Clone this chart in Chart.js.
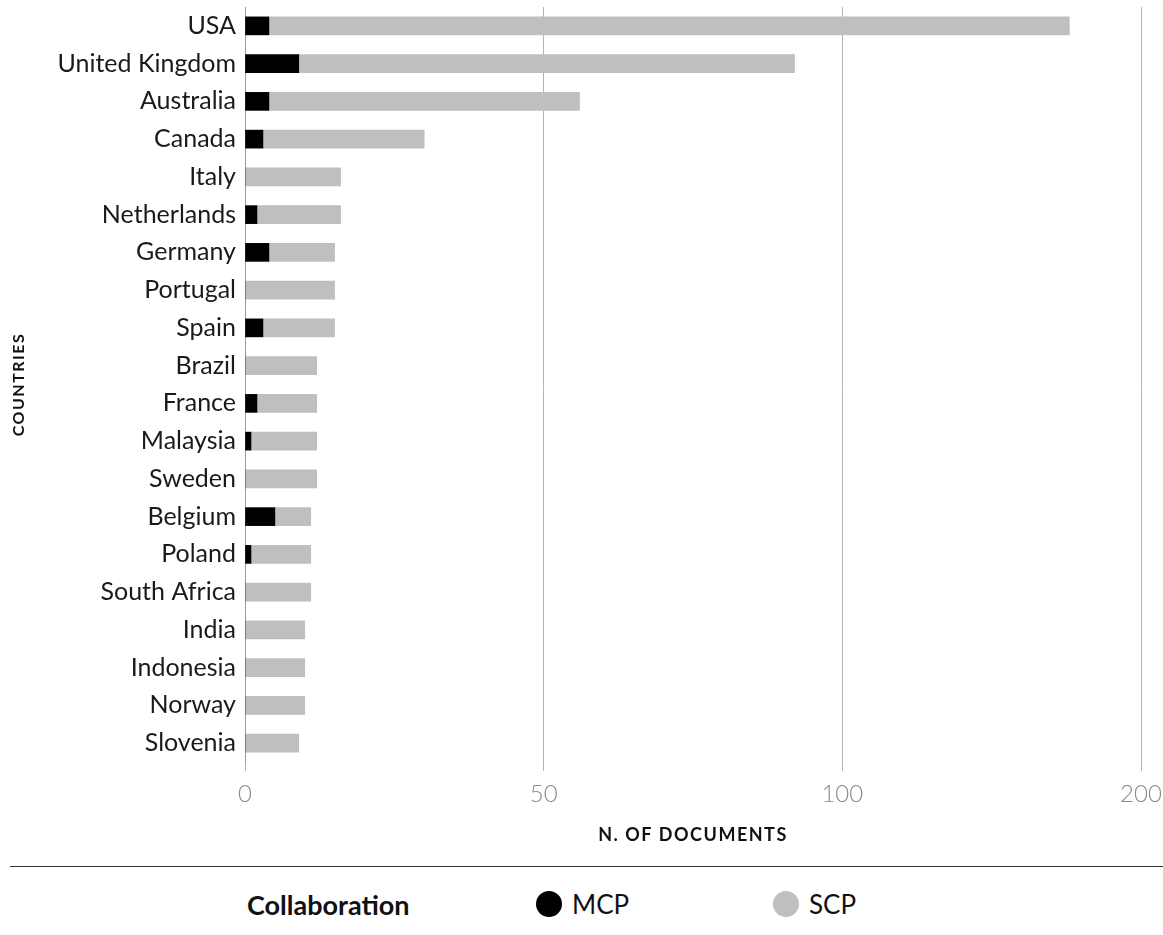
<!DOCTYPE html>
<html>
<head>
<meta charset="utf-8">
<script src="https://cdn.jsdelivr.net/npm/chart.js@4"></script>
<style>
  body { margin: 0; background: #fff; font-family: Lato, sans-serif; }
  #wrap { position: relative; width: 1163px; height: 935px; overflow: hidden; }
  #c { position: absolute; left: 0; top: 0; }
  .rule { position: absolute; left: 10px; right: 0; top: 866px; border-top: 1.5px solid #333; }
  .item { position: absolute; top: 884px; height: 40px; display: flex; align-items: center; font-size: 26px; line-height: 1; color: #111; }
  .item.head { font-weight: bold; font-size: 27px; }
  .dot { width: 26px; height: 26px; border-radius: 50%; margin-right: 10px; }
</style>
</head>
<body>
<div id="wrap">
  <canvas id="c" width="1163" height="860"></canvas>
  <div class="rule"></div>
  <div id="legend"></div>
</div>
<script>
const countries = [
  "USA", "United Kingdom", "Australia", "Canada", "Italy", "Netherlands",
  "Germany", "Portugal", "Spain", "Brazil", "France", "Malaysia", "Sweden",
  "Belgium", "Poland", "South Africa", "India", "Indonesia", "Norway", "Slovenia"
];
const mcpDocs = [4, 9, 4, 3, 0, 2, 4, 0, 3, 0, 2, 1, 0, 5, 1, 0, 0, 0, 0, 0];
const scpDocs = [172, 83, 52, 27, 16, 14, 11, 15, 12, 12, 10, 11, 12, 6, 10, 11, 10, 10, 10, 9];
const xTicks = [0, 50, 100, 200];

// x axis: each interval between ticks gets the same width (0-50, 50-100, 100-200)
class PiecewiseScale extends Chart.LinearScale {
  buildTicks() {
    return xTicks.map((v) => ({ value: v }));
  }
  getPixelForValue(value) {
    if (value === null || isNaN(value)) return NaN;
    const n = xTicks.length - 1;
    let i = 0;
    while (i < n - 1 && value > xTicks[i + 1]) i++;
    const frac = (value - xTicks[i]) / (xTicks[i + 1] - xTicks[i]);
    return this.getPixelForDecimal((i + frac) / n);
  }
  getValueForPixel(pixel) {
    const n = xTicks.length - 1;
    const d = this.getDecimalForPixel(pixel) * n;
    const i = Math.min(Math.max(Math.floor(d), 0), n - 1);
    return xTicks[i] + (d - i) * (xTicks[i + 1] - xTicks[i]);
  }
}
PiecewiseScale.id = "piecewise";
PiecewiseScale.defaults = {};
Chart.register(PiecewiseScale);

// spaced-out axis titles
const titleSpacing = {
  id: "titleSpacing",
  beforeDraw(chart) {
    Object.values(chart.scales).forEach((s) => {
      if (s._spaced) return;
      const orig = s.drawTitle;
      s.drawTitle = function () {
        this.ctx.save();
        this.ctx.letterSpacing = "1.5px";
        orig.apply(this, arguments);
        this.ctx.restore();
      };
      s._spaced = true;
    });
  },
};

const ctx = document.getElementById("c").getContext("2d");
const chart = new Chart(ctx, {
  type: "bar",
  data: {
    labels: countries,
    datasets: [
      { label: "MCP", data: mcpDocs, backgroundColor: "#000000", borderWidth: 0, barThickness: 18 },
      { label: "SCP", data: scpDocs, backgroundColor: "#bfbfbf", borderWidth: 0, barThickness: 18 },
    ],
  },
  options: {
    indexAxis: "y",
    responsive: false,
    animation: false,
    layout: { padding: { top: 7, right: 22, left: 0, bottom: 0 } },
    plugins: {
      legend: { display: false },
      tooltip: { enabled: false },
    },
    scales: {
      x: {
        type: "piecewise",
        stacked: true,
        min: 0,
        max: 200,
        afterFit: (s) => {
          s.height = 98;
          s.paddingLeft = 0;
          s.paddingRight = 0;
        },
        grid: { color: "#b4b4b4", lineWidth: 1, drawTicks: true, tickLength: 9, tickColor: "#b4b4b4" },
        border: { display: false },
        ticks: {
          padding: 9,
          color: "#8a8a8a",
          font: { family: "Lato", size: 24, weight: "300" },
          callback: (v) => String(v),
        },
        title: {
          display: true,
          text: "N. OF DOCUMENTS",
          color: "#111",
          font: { family: "Lato", size: 18, weight: "bold" },
          padding: { top: 0, bottom: 14 },
        },
      },
      y: {
        stacked: true,
        afterFit: (s) => {
          s.width = 245;
          s.paddingTop = 0;
          s.paddingBottom = 0;
        },
        grid: { display: false, drawTicks: false },
        border: { display: true, color: "#9a9a9a", width: 1 },
        ticks: {
          padding: 9,
          color: "#1a1a1a",
          font: { family: "Lato", size: 25 },
        },
        title: {
          display: true,
          text: "COUNTRIES",
          color: "#111",
          font: { family: "Lato", size: 16, weight: "bold" },
          padding: { top: 9, bottom: 0 },
        },
      },
    },
  },
  plugins: [titleSpacing],
});

// legend row under the rule
const legendEl = document.getElementById("legend");
const head = document.createElement("div");
head.className = "item head";
head.style.left = "247px";
head.textContent = "Collaboration";
legendEl.appendChild(head);

const legendX = [536, 773];
chart.data.datasets.forEach((ds, i) => {
  const item = document.createElement("div");
  item.className = "item";
  item.style.left = legendX[i] + "px";
  const dot = document.createElement("span");
  dot.className = "dot";
  dot.style.background = ds.backgroundColor;
  item.appendChild(dot);
  item.appendChild(document.createTextNode(ds.label));
  legendEl.appendChild(item);
});
</script>
</body>
</html>
